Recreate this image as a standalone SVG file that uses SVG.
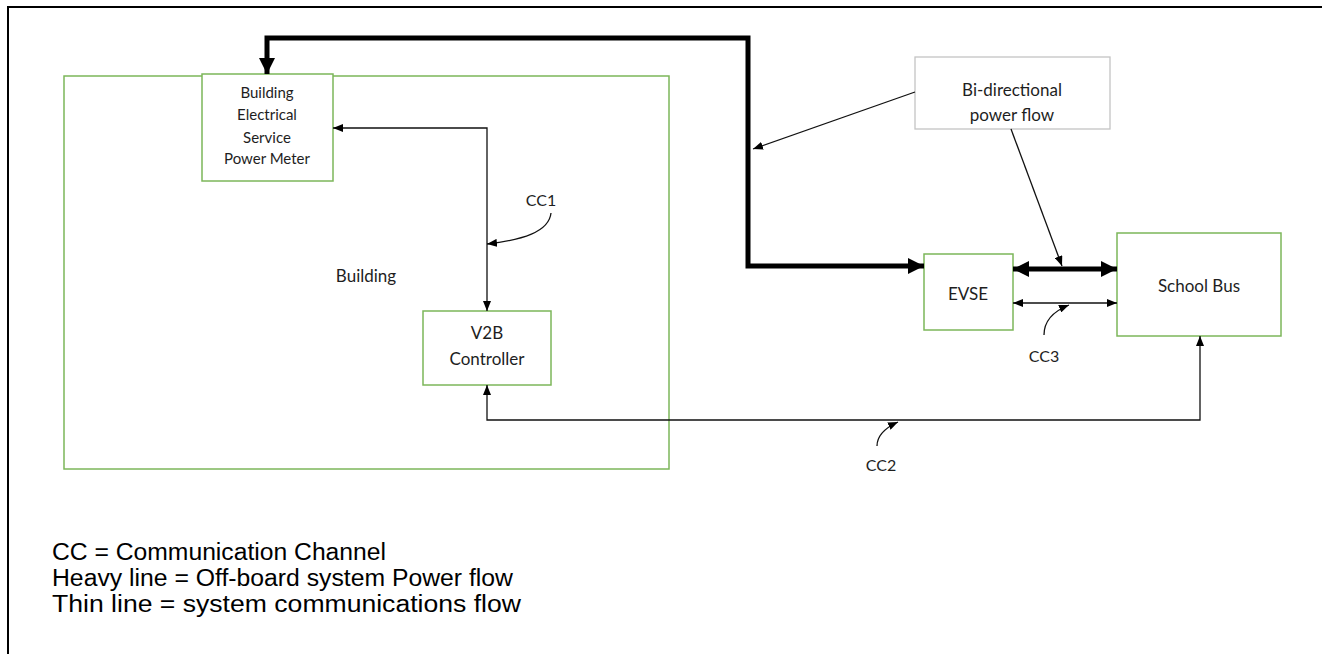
<svg xmlns="http://www.w3.org/2000/svg" width="1322" height="654" viewBox="0 0 1322 654">
<style>
.box{fill:#fff;stroke:#7cb65a;stroke-width:1.5}
.note{fill:#fff;stroke:#c4c4c4;stroke-width:1.3}
.lbl{font-family:Lato,"Open Sans",sans-serif;fill:#1e1e1e;text-anchor:middle}
.legend{font-family:"Liberation Sans",Arial,sans-serif;font-size:23px;fill:#000}
.heavy{fill:none;stroke:#000;stroke-width:5}
.thin{fill:none;stroke:#111;stroke-width:1.3}
</style>
<defs>
<marker id="ah" markerUnits="userSpaceOnUse" viewBox="0 0 16 16" refX="16" refY="8" markerWidth="16" markerHeight="16" orient="auto-start-reverse"><path d="M0,0 L16,8 L0,16 Z" fill="#000"/></marker>
<marker id="at" markerUnits="userSpaceOnUse" viewBox="0 0 10 8" refX="10" refY="4" markerWidth="10" markerHeight="8" orient="auto-start-reverse"><path d="M0,0 L10,4 L0,8 Z" fill="#000"/></marker>
</defs>
<path d="M8,654 V7 H1322" fill="none" stroke="#000" stroke-width="2"/>
<g id="building">
<rect class="box" x="64" y="76" width="605" height="393"/>
<text class="lbl" x="366" y="282" font-size="17">Building</text>
</g>
<g id="meter">
<rect class="box" x="202" y="74" width="131" height="107"/>
<text class="lbl" x="267" y="98" font-size="15">Building</text>
<text class="lbl" x="267" y="120" font-size="15">Electrical</text>
<text class="lbl" x="267" y="143" font-size="15">Service</text>
<text class="lbl" x="267" y="164" font-size="15">Power Meter</text>
</g>
<g id="v2b">
<rect class="box" x="423" y="311" width="128" height="74"/>
<text class="lbl" x="487" y="339" font-size="17">V2B</text>
<text class="lbl" x="487" y="365" font-size="17">Controller</text>
</g>
<g id="evse">
<rect class="box" x="924" y="254" width="89" height="76"/>
<text class="lbl" x="968" y="300" font-size="17">EVSE</text>
</g>
<g id="bus">
<rect class="box" x="1117" y="233" width="164" height="103"/>
<text class="lbl" x="1199" y="292" font-size="17">School Bus</text>
</g>
<g id="note">
<rect class="note" x="915" y="57" width="195" height="72"/>
<text class="lbl" x="1012" y="96" font-size="17">Bi-directional</text>
<text class="lbl" x="1012" y="121" font-size="17">power flow</text>
</g>
<g id="connectors">
<path class="heavy" d="M267,74 V38 H748 V266 H924" marker-start="url(#ah)" marker-end="url(#ah)"/>
<path class="heavy" d="M1013,269 H1117" marker-start="url(#ah)" marker-end="url(#ah)"/>
<path class="thin" d="M333,128 H487 V311" marker-start="url(#at)" marker-end="url(#at)"/>
<path class="thin" d="M487,385 V420 H1200 V336" marker-start="url(#at)" marker-end="url(#at)"/>
<path class="thin" d="M1013,303 H1117" marker-start="url(#at)" marker-end="url(#at)"/>
<path class="thin" d="M915,92 L753,149" marker-end="url(#at)"/>
<path class="thin" d="M1011,129 L1062,266" marker-end="url(#at)"/>
<path class="thin" d="M551,213 C549,232 522,240 487,244" marker-end="url(#at)"/>
<path class="thin" d="M1044,335 C1044,320 1054,311 1069,305" marker-end="url(#at)"/>
<path class="thin" d="M877,446 C877,435 885,428 898,422" marker-end="url(#at)"/>
<text class="lbl" x="541" y="206" font-size="16">CC1</text>
<text class="lbl" x="881" y="471" font-size="16">CC2</text>
<text class="lbl" x="1044" y="362" font-size="16">CC3</text>
</g>
<g id="legend">
<text class="legend" x="52" y="560" textLength="334" lengthAdjust="spacingAndGlyphs">CC = Communication Channel</text>
<text class="legend" x="52" y="586" textLength="461" lengthAdjust="spacingAndGlyphs">Heavy line = Off-board system Power flow</text>
<text class="legend" x="52" y="612" textLength="469" lengthAdjust="spacingAndGlyphs">Thin line = system communications flow</text>
</g>
</svg>
